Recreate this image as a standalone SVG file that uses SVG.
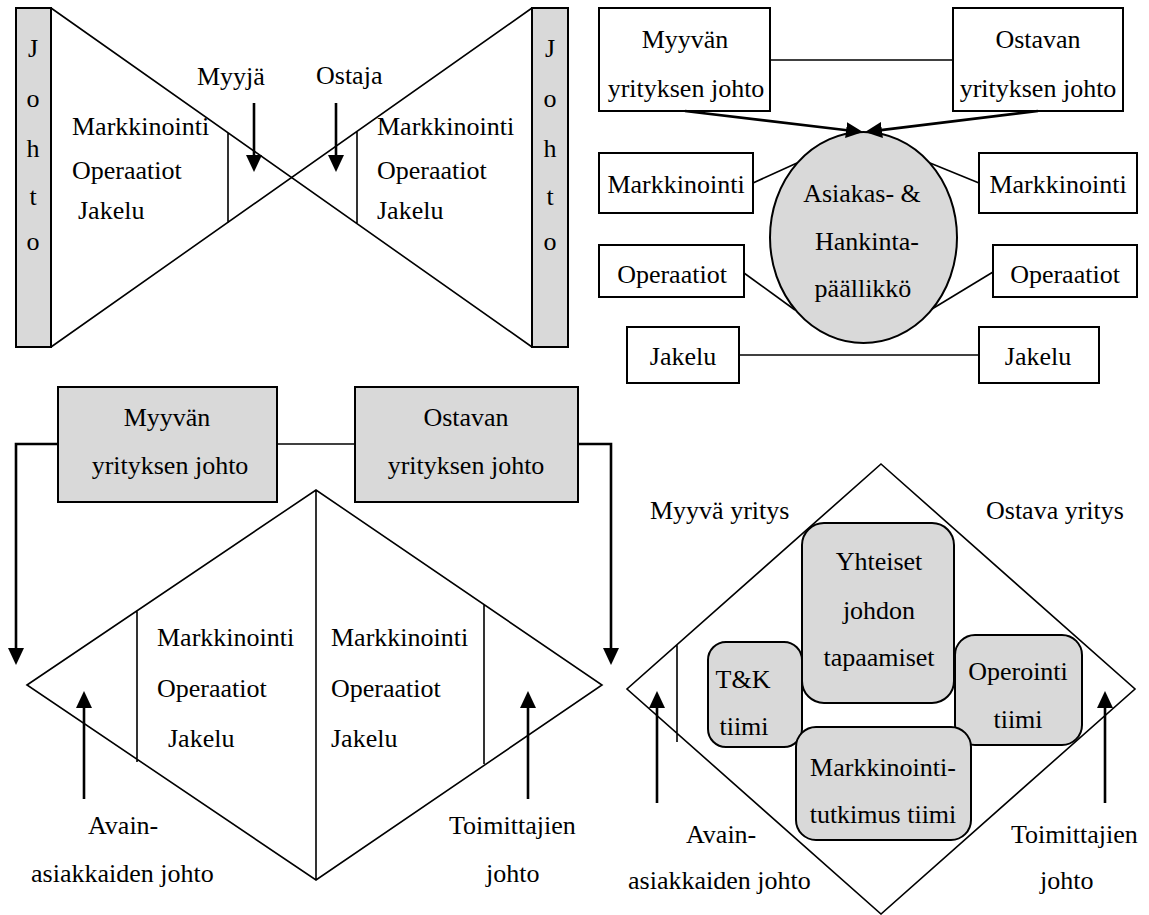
<svg xmlns="http://www.w3.org/2000/svg" width="1149" height="915" viewBox="0 0 1149 915" font-family="'Liberation Serif', 'Times New Roman', Times, serif">
  <style>
    text { font-family: "Liberation Serif", "Times New Roman", Times, "DejaVu Serif", serif; font-size: 26px; fill: #000; }
    .mid { text-anchor: middle; }
    .box { fill: #fff; stroke: #000; stroke-width: 2; }
    .grey { fill: #d9d9d9; stroke: #000; stroke-width: 2; }
    .ln { fill: none; stroke: #000; stroke-width: 1.6; }
    .arr { fill: none; stroke: #000; stroke-width: 2.6; marker-end: url(#head); }
  </style>
  <defs>
    <marker id="head" viewBox="0 0 17 16" refX="1" refY="8" markerWidth="17" markerHeight="16" orient="auto" markerUnits="userSpaceOnUse">
      <path d="M0,0 L17,8 L0,16 z" fill="#000"/>
    </marker>
  </defs>

  <rect width="1149" height="915" fill="#fff"/>

  <!-- Panel 1: two funnels meeting in the middle -->
  <g id="funnel-seller">
    <rect class="grey" x="16" y="8" width="35" height="339"/>
    <text class="mid" x="33" y="57">J</text>
    <text class="mid" x="33" y="107">o</text>
    <text class="mid" x="33" y="157">h</text>
    <text class="mid" x="33" y="205">t</text>
    <text class="mid" x="33" y="250">o</text>
    <text x="72" y="135">Markkinointi</text>
    <text x="72" y="179">Operaatiot</text>
    <text x="78" y="219">Jakelu</text>
    <text x="197" y="85">Myyjä</text>
  </g>
  <g id="funnel-buyer">
    <rect class="grey" x="532" y="8" width="36" height="339"/>
    <text class="mid" x="550" y="57">J</text>
    <text class="mid" x="550" y="107">o</text>
    <text class="mid" x="550" y="157">h</text>
    <text class="mid" x="550" y="205">t</text>
    <text class="mid" x="550" y="250">o</text>
    <text x="377" y="135">Markkinointi</text>
    <text x="377" y="179">Operaatiot</text>
    <text x="377" y="219">Jakelu</text>
    <text x="316" y="84">Ostaja</text>
  </g>

  <!-- Panel 2: boxes around the account manager -->
  <g id="tr-seller-mgmt">
    <rect class="box" x="599" y="8" width="171" height="103"/>
    <text class="mid" x="685" y="48">Myyvän</text>
    <text class="mid" x="686" y="97">yrityksen johto</text>
  </g>
  <g id="tr-buyer-mgmt">
    <rect class="box" x="953" y="8" width="170" height="103"/>
    <text class="mid" x="1038" y="48">Ostavan</text>
    <text class="mid" x="1038" y="97">yrityksen johto</text>
  </g>
  <g id="tr-manager">
    <ellipse cx="863.5" cy="237.5" rx="93.5" ry="105.5" fill="#d9d9d9" stroke="#000" stroke-width="2"/>
    <text class="mid" x="862" y="202">Asiakas- &amp;</text>
    <text class="mid" x="867" y="250">Hankinta-</text>
    <text class="mid" x="863" y="297">päällikkö</text>
  </g>
  <g id="tr-mark-l">
    <rect class="box" x="599" y="153" width="154" height="60"/>
    <text class="mid" x="676" y="193">Markkinointi</text>
  </g>
  <g id="tr-mark-r">
    <rect class="box" x="979" y="153" width="158" height="60"/>
    <text class="mid" x="1058" y="193">Markkinointi</text>
  </g>
  <g id="tr-oper-l">
    <rect class="box" x="599" y="245" width="145" height="52"/>
    <text class="mid" x="672" y="283">Operaatiot</text>
  </g>
  <g id="tr-oper-r">
    <rect class="box" x="993" y="245" width="144" height="52"/>
    <text class="mid" x="1065" y="283">Operaatiot</text>
  </g>
  <g id="tr-jakelu-l">
    <rect class="box" x="627" y="327" width="112" height="56"/>
    <text class="mid" x="683" y="365">Jakelu</text>
  </g>
  <g id="tr-jakelu-r">
    <rect class="box" x="979" y="327" width="120" height="56"/>
    <text class="mid" x="1038" y="365">Jakelu</text>
  </g>

  <!-- Panel 3: split diamond with management boxes above -->
  <g id="bl-seller-mgmt">
    <rect class="grey" x="58" y="387" width="219" height="115"/>
    <text class="mid" x="167" y="426">Myyvän</text>
    <text class="mid" x="170" y="474">yrityksen johto</text>
  </g>
  <g id="bl-buyer-mgmt">
    <rect class="grey" x="355" y="387" width="223" height="115"/>
    <text class="mid" x="466" y="426">Ostavan</text>
    <text class="mid" x="466" y="474">yrityksen johto</text>
  </g>
  <g id="bl-diamond">
    <path class="ln" d="M27,685 L316,490 L602,685 L316,880 Z M316,490 V880 M137,611 V762 M484,605 V764"/>
    <text x="157" y="646">Markkinointi</text>
    <text x="157" y="697">Operaatiot</text>
    <text x="168" y="747">Jakelu</text>
    <text x="331" y="646">Markkinointi</text>
    <text x="331" y="697">Operaatiot</text>
    <text x="331" y="747">Jakelu</text>
    <text x="88" y="834">Avain-</text>
    <text x="31" y="882">asiakkaiden johto</text>
    <text x="449" y="834">Toimittajien</text>
    <text x="486" y="882">johto</text>
  </g>

  <!-- Panel 4: diamond with joint teams -->
  <g id="br-diamond">
    <path class="ln" d="M881,464 L1135,689 L881,914 L627,689 Z M677,645 V742"/>
    <text x="650" y="519">Myyvä yritys</text>
    <text x="986" y="519">Ostava yritys</text>
    <text x="686" y="843">Avain-</text>
    <text x="628" y="889">asiakkaiden johto</text>
    <text x="1011" y="843">Toimittajien</text>
    <text x="1040" y="889">johto</text>
  </g>
  <g id="br-operointi">
    <rect class="grey" x="955" y="635" width="127" height="110" rx="20"/>
    <text class="mid" x="1018" y="680">Operointi</text>
    <text class="mid" x="1018" y="728">tiimi</text>
  </g>
  <g id="br-tk">
    <rect class="grey" x="708" y="642" width="94" height="105" rx="18"/>
    <text class="mid" x="743" y="688">T&amp;K</text>
    <text class="mid" x="744" y="735">tiimi</text>
  </g>
  <g id="br-yhteiset">
    <rect class="grey" x="802" y="523" width="152" height="180" rx="22"/>
    <text class="mid" x="879" y="570">Yhteiset</text>
    <text class="mid" x="879" y="619">johdon</text>
    <text class="mid" x="879" y="666">tapaamiset</text>
  </g>
  <g id="br-markkinointi">
    <rect class="grey" x="796" y="727" width="175" height="113" rx="20"/>
    <text class="mid" x="883" y="776">Markkinointi-</text>
    <text class="mid" x="883" y="823">tutkimus tiimi</text>
  </g>

  <!-- Connectors -->
  <g id="connectors">
    <!-- panel 1 -->
    <path class="ln" d="M51,8 L532,347 M51,347 L532,8 M228,133 V223 M357,132 V223"/>
    <path class="arr" d="M254,103 V156"/>
    <path class="arr" d="M336,103 V156"/>
    <!-- panel 2 -->
    <path class="ln" d="M770,60 H953"/>
    <path class="arr" d="M685,111 L847.1,130.2"/>
    <path class="arr" d="M1038,111 L880.9,130.1"/>
    <path class="ln" d="M753,183 L797,163"/>
    <path class="ln" d="M979,183 L930,163"/>
    <path class="ln" d="M744,273 L795,310"/>
    <path class="ln" d="M993,272 L932,309"/>
    <path class="ln" d="M739,355 H979"/>
    <!-- panel 3 -->
    <path class="ln" d="M277,444 H355"/>
    <path class="arr" d="M58,444 H16 V649"/>
    <path class="arr" d="M578,444 H611 V649"/>
    <path class="arr" d="M84,799 V707"/>
    <path class="arr" d="M528,799 V707"/>
    <!-- panel 4 -->
    <path class="arr" d="M657,803 V707"/>
    <path class="arr" d="M1105,803 V707"/>
  </g>
</svg>
